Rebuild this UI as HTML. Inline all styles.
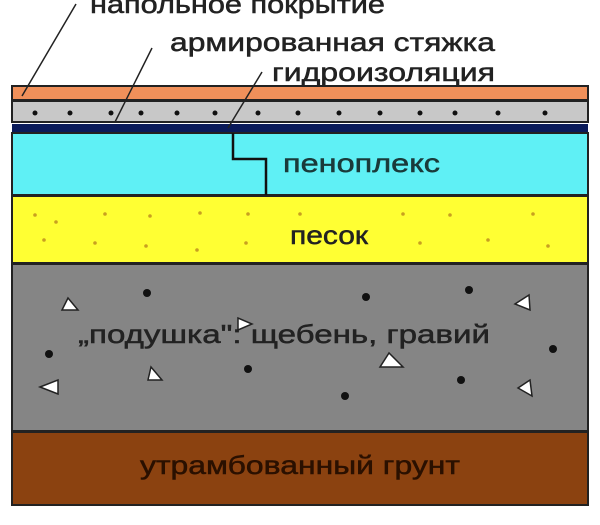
<!DOCTYPE html>
<html><head><meta charset="utf-8"><style>html,body{margin:0;padding:0;background:#fff;}svg{display:block}</style></head>
<body>
<svg width="600" height="525" viewBox="0 0 600 525" xmlns="http://www.w3.org/2000/svg" font-family="Liberation Sans, DejaVu Sans, sans-serif">
<rect width="600" height="525" fill="#fff"/>
<rect x="12" y="86" width="576" height="14" fill="#f0905a" stroke="#222" stroke-width="2"/>
<rect x="12" y="101" width="576" height="21" fill="#c8c8c8" stroke="#222" stroke-width="2"/>
<g fill="#111">
<circle cx="35" cy="113" r="2.5"/><circle cx="70" cy="113" r="2.5"/><circle cx="111" cy="113" r="2.5"/><circle cx="141" cy="113" r="2.5"/><circle cx="177" cy="113" r="2.5"/><circle cx="215" cy="113" r="2.5"/><circle cx="258" cy="113" r="2.5"/><circle cx="298" cy="113" r="2.5"/><circle cx="339" cy="113" r="2.5"/><circle cx="380" cy="113" r="2.5"/><circle cx="420" cy="113" r="2.5"/><circle cx="455" cy="113" r="2.5"/><circle cx="498" cy="113" r="2.5"/><circle cx="545" cy="113" r="2.5"/>
</g>
<rect x="12" y="124" width="576" height="9" fill="#0a1a5a"/>
<rect x="12" y="133" width="576" height="62" fill="#5ff0f5" stroke="#222" stroke-width="2"/>
<polyline points="233,133 233,159 266,159 266,195" fill="none" stroke="#111" stroke-width="2.5"/>
<rect x="12" y="196" width="576" height="67" fill="#ffff33" stroke="#222" stroke-width="2"/>
<g fill="#c8a020">
<circle cx="35" cy="215" r="1.8"/><circle cx="56" cy="222" r="1.8"/><circle cx="105" cy="214" r="1.8"/><circle cx="150" cy="216" r="1.8"/><circle cx="200" cy="213" r="1.8"/><circle cx="248" cy="214" r="1.8"/><circle cx="300" cy="214" r="1.8"/><circle cx="403" cy="214" r="1.8"/><circle cx="450" cy="215" r="1.8"/><circle cx="533" cy="214" r="1.8"/><circle cx="44" cy="240" r="1.8"/><circle cx="95" cy="243" r="1.8"/><circle cx="146" cy="246" r="1.8"/><circle cx="197" cy="250" r="1.8"/><circle cx="246" cy="243" r="1.8"/><circle cx="420" cy="243" r="1.8"/><circle cx="488" cy="240" r="1.8"/><circle cx="548" cy="246" r="1.8"/>
</g>
<rect x="12" y="264" width="576" height="167" fill="#858585" stroke="#222" stroke-width="2"/>
<g fill="#111">
<circle cx="147" cy="293" r="4"/><circle cx="366" cy="297" r="4"/><circle cx="469" cy="290" r="4"/><circle cx="49" cy="354" r="4"/><circle cx="553" cy="349" r="4"/><circle cx="248" cy="369" r="4"/><circle cx="461" cy="380" r="4"/><circle cx="345" cy="396" r="4"/>
</g>
<g fill="#fff" stroke="#222" stroke-width="1.5">
<polygon points="68,298 62,310 78,310"/><polygon points="238,318 238,330 252,324"/><polygon points="529,295 515,304 530,310"/><polygon points="389,353 380,367 403,367"/><polygon points="151,367 148,380 162,380"/><polygon points="40,387 58,380 58,394"/><polygon points="518,388 530,380 532,396"/>
</g>
<rect x="12" y="432" width="576" height="73" fill="#8b4210" stroke="#222" stroke-width="2"/>
<g stroke="#222" stroke-width="1.5" fill="none">
<line x1="76" y1="4" x2="22" y2="96"/><line x1="152" y1="48" x2="115" y2="122"/><line x1="262" y1="72" x2="228" y2="128"/>
</g>
<g font-size="26" fill="#222" stroke="#222" stroke-width="0.5" lengthAdjust="spacingAndGlyphs">
<text x="90" y="13" textLength="295" lengthAdjust="spacingAndGlyphs">напольное покрытие</text>
<text x="170" y="51" textLength="325" lengthAdjust="spacingAndGlyphs">армированная стяжка</text>
<text x="272" y="81" textLength="223" lengthAdjust="spacingAndGlyphs">гидроизоляция</text>
<text x="283" y="172" textLength="157" lengthAdjust="spacingAndGlyphs" fill="#1a3a3a" stroke="#1a3a3a">пеноплекс</text>
<text x="290" y="244" textLength="78" lengthAdjust="spacingAndGlyphs">песок</text>
<text x="78" y="343" textLength="412" lengthAdjust="spacingAndGlyphs">„подушка": щебень, гравий</text>
<text x="140" y="474" textLength="320" lengthAdjust="spacingAndGlyphs" fill="#2a1000" stroke="#2a1000">утрамбованный грунт</text>
</g>
</svg>
</body></html>
